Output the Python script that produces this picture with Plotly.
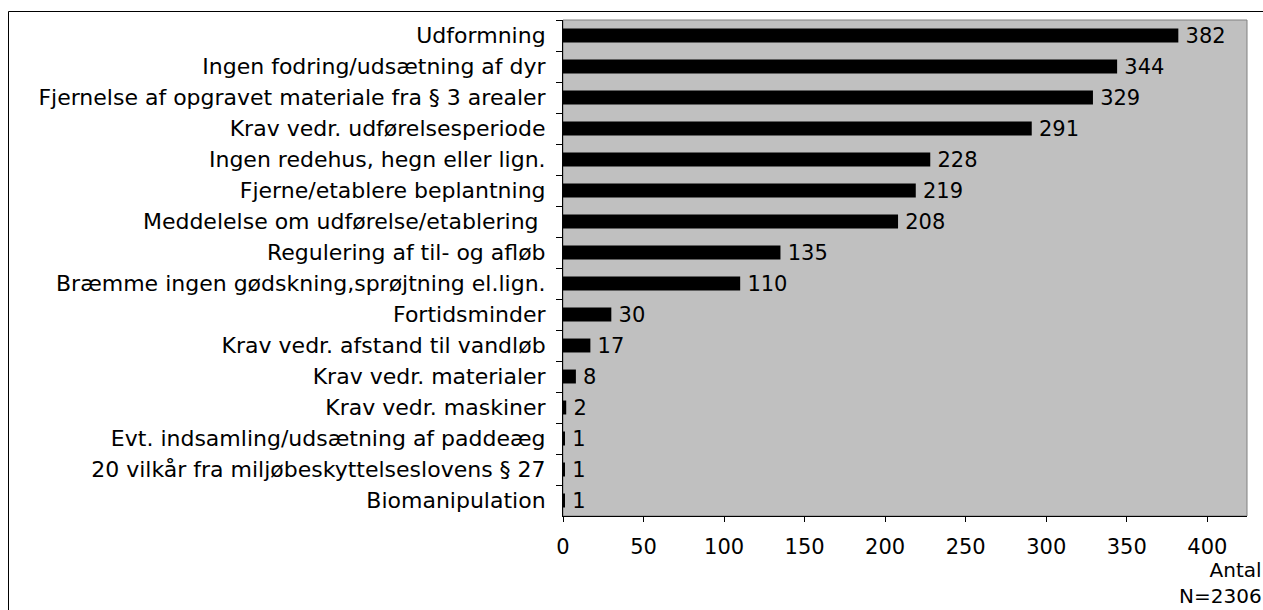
import plotly.graph_objects as go

categories = [
    "Udformning",
    "Ingen fodring/udsætning af dyr",
    "Fjernelse af opgravet materiale fra § 3 arealer",
    "Krav vedr. udførelsesperiode",
    "Ingen redehus, hegn eller lign.",
    "Fjerne/etablere beplantning",
    "Meddelelse om udførelse/etablering ",
    "Regulering af til- og afløb",
    "Bræmme ingen gødskning,sprøjtning el.lign.",
    "Fortidsminder",
    "Krav vedr. afstand til vandløb",
    "Krav vedr. materialer",
    "Krav vedr. maskiner",
    "Evt. indsamling/udsætning af paddeæg",
    "20 vilkår fra miljøbeskyttelseslovens § 27",
    "Biomanipulation",
]
values = [382, 344, 329, 291, 228, 219, 208, 135, 110, 30, 17, 8, 2, 1, 1, 1]
x_ticks = [0, 50, 100, 150, 200, 250, 300, 350, 400]
axis_title = "Antal"
note = "N=2306"

FONT = "DejaVu Sans"
FS = 21
FS_CAT = 22

W, H = 1263, 610
L, R, T, B = 563, 16, 20, 94
pw = W - L - R
ph = H - T - B

def px_x(px):
    return (px - L) / pw

def px_y(py):
    return (H - B - py) / ph

fig = go.Figure(
    go.Bar(
        x=values,
        y=categories,
        orientation="h",
        marker=dict(color="black", line=dict(width=0)),
        width=0.45,
        text=["\u2009" + str(v) for v in values],
        textposition="outside",
        constraintext="none",
        textfont=dict(family=FONT, size=FS, color="black"),
        cliponaxis=False,
        hoverinfo="skip",
    )
)

fig.update_layout(
    width=W,
    height=H,
    margin=dict(l=L, r=R, t=T, b=B, autoexpand=False),
    paper_bgcolor="white",
    plot_bgcolor="#C0C0C0",
    showlegend=False,
    font=dict(family=FONT, size=FS, color="black"),
    xaxis=dict(
        range=[0, pw / 1.6108],
        tickmode="array",
        tickvals=x_ticks,
        ticktext=[str(t) for t in x_ticks],
        showgrid=False,
        zeroline=False,
        showline=True,
        linecolor="black",
        linewidth=1,
        ticks="outside",
        ticklen=5,
        tickcolor="black",
        ticklabelstandoff=7,
        tickfont=dict(family=FONT, size=FS, color="black"),
    ),
    yaxis=dict(
        categoryorder="array",
        categoryarray=categories,
        autorange="reversed",
        tickson="boundaries",
        showgrid=False,
        zeroline=False,
        showline=True,
        linecolor="black",
        linewidth=1,
        ticks="outside",
        ticklen=6,
        tickcolor="black",
        ticklabelstandoff=12,
        tickfont=dict(family=FONT, size=FS_CAT, color="black"),
    ),
    shapes=[
        dict(type="rect", xref="x domain", yref="y domain", x0=0, x1=1, y0=0, y1=1,
             line=dict(color="#808080", width=1), fillcolor="rgba(0,0,0,0)", layer="below"),
        dict(type="rect", xref="paper", yref="paper",
             x0=px_x(8.5), x1=px_x(1300), y0=px_y(650), y1=px_y(11.5),
             line=dict(color="black", width=1), fillcolor="rgba(0,0,0,0)"),
    ],
    annotations=[
        dict(text=axis_title + "<br>" + note, xref="paper", yref="paper",
             x=px_x(1264), y=px_y(583), align="right",
             xanchor="right", yanchor="middle", showarrow=False,
             font=dict(family=FONT, size=20, color="black")),
    ],
)

fig.write_html(
    "out.html",
    config={"displayModeBar": False},
    post_script="document.body.style.margin='0';document.body.style.overflow='hidden';",
)
